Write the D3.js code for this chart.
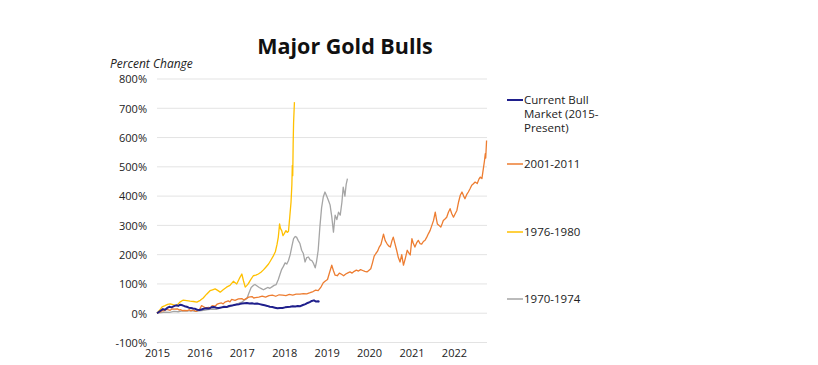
<!DOCTYPE html>
<html><head><meta charset="utf-8">
<script src="https://cdn.jsdelivr.net/npm/d3@7"></script>
<style>body{margin:0;background:#fff}svg{display:block}</style>
</head><body>
<svg id="chart" width="818" height="365"></svg>
<script>
const title = "Major Gold Bulls";
const yAxisTitle = "Percent Change";
const xTickYears = [2015, 2016, 2017, 2018, 2019, 2020, 2021, 2022];
const yTickValues = [-100, 0, 100, 200, 300, 400, 500, 600, 700, 800];
const seriesNames = ["Current Bull Market (2015-Present)", "2001-2011", "1976-1980", "1970-1974"];
const seriesColors = ["#1f1f8c", "#ed7d31", "#ffc000", "#a5a5a5"];

// [year position, percent change]
const current = [[2015.00,0],[2015.05,5],[2015.10,10],[2015.14,14],[2015.19,12],[2015.24,18],[2015.29,22],[2015.34,20],[2015.40,24],[2015.45,27],[2015.50,25],[2015.55,29],[2015.60,27],[2015.65,24],[2015.70,22],[2015.75,19],[2015.80,18],[2015.85,16],[2015.90,15],[2015.95,12],[2016.00,11],[2016.05,13],[2016.10,15],[2016.16,17],[2016.22,16],[2016.28,20],[2016.34,21],[2016.40,19],[2016.46,18],[2016.52,20],[2016.58,22],[2016.64,21],[2016.70,25],[2016.76,26],[2016.82,28],[2016.88,30],[2016.94,31],[2017.00,33],[2017.06,34],[2017.12,35],[2017.18,33],[2017.24,34],[2017.30,32],[2017.36,33],[2017.42,31],[2017.48,29],[2017.54,27],[2017.60,25],[2017.66,22],[2017.72,21],[2017.78,19],[2017.84,17],[2017.90,18],[2017.96,18],[2018.02,20],[2018.08,21],[2018.14,22],[2018.20,24],[2018.26,23],[2018.32,25],[2018.38,24],[2018.44,28],[2018.50,31],[2018.55,35],[2018.60,38],[2018.65,42],[2018.70,44],[2018.75,40],[2018.80,41],[2018.83,39]];

const bull2001 = [[2015.00,0],[2015.04,3],[2015.08,4],[2015.12,9],[2015.16,8],[2015.21,13],[2015.25,12],[2015.31,10],[2015.36,15],[2015.40,14],[2015.48,15],[2015.52,11],[2015.56,12],[2015.60,9],[2015.64,10],[2015.72,9],[2015.76,12],[2015.80,8],[2015.86,11],[2015.92,6],[2016.00,12],[2016.05,26],[2016.10,22],[2016.15,18],[2016.22,20],[2016.26,17],[2016.30,26],[2016.37,24],[2016.41,30],[2016.45,33],[2016.52,35],[2016.56,32],[2016.60,38],[2016.68,42],[2016.72,39],[2016.76,47],[2016.84,44],[2016.92,49],[2017.00,50],[2017.04,46],[2017.08,48],[2017.16,55],[2017.24,57],[2017.28,52],[2017.32,53],[2017.40,55],[2017.48,58],[2017.56,55],[2017.64,60],[2017.72,62],[2017.80,58],[2017.88,63],[2017.96,62],[2018.04,60],[2018.12,64],[2018.20,62],[2018.28,65],[2018.37,65],[2018.45,67],[2018.53,66],[2018.61,70],[2018.68,74],[2018.74,79],[2018.80,77],[2018.86,88],[2018.92,104],[2018.97,110],[2019.02,115],[2019.07,140],[2019.12,164],[2019.16,145],[2019.20,130],[2019.25,128],[2019.30,137],[2019.35,133],[2019.40,128],[2019.45,134],[2019.50,138],[2019.55,141],[2019.60,137],[2019.65,143],[2019.70,147],[2019.75,144],[2019.80,149],[2019.85,146],[2019.90,143],[2019.95,141],[2020.00,147],[2020.04,152],[2020.08,172],[2020.12,195],[2020.16,204],[2020.20,212],[2020.24,226],[2020.28,235],[2020.32,258],[2020.34,270],[2020.38,248],[2020.42,238],[2020.46,230],[2020.50,226],[2020.54,248],[2020.57,260],[2020.61,238],[2020.65,215],[2020.69,190],[2020.73,175],[2020.77,200],[2020.81,164],[2020.85,185],[2020.90,215],[2020.94,205],[2020.97,199],[2021.01,255],[2021.04,240],[2021.08,226],[2021.12,240],[2021.16,249],[2021.20,238],[2021.24,236],[2021.28,245],[2021.32,249],[2021.36,260],[2021.40,272],[2021.44,283],[2021.48,300],[2021.52,317],[2021.56,345],[2021.59,320],[2021.61,305],[2021.65,300],[2021.69,294],[2021.72,305],[2021.75,317],[2021.79,322],[2021.83,328],[2021.87,345],[2021.91,357],[2021.95,340],[2021.99,328],[2022.03,340],[2022.07,351],[2022.11,380],[2022.15,403],[2022.19,414],[2022.23,400],[2022.26,391],[2022.30,405],[2022.34,414],[2022.38,425],[2022.42,437],[2022.46,442],[2022.50,448],[2022.55,443],[2022.59,458],[2022.62,465],[2022.66,460],[2022.70,500],[2022.72,520],[2022.74,545],[2022.75,530],[2022.77,590]];

const bull1976 = [[2015.00,0],[2015.06,10],[2015.12,22],[2015.19,26],[2015.25,30],[2015.31,32],[2015.38,29],[2015.46,26],[2015.54,38],[2015.62,45],[2015.70,43],[2015.78,41],[2015.86,40],[2015.94,38],[2016.02,44],[2016.09,52],[2016.17,65],[2016.25,77],[2016.31,80],[2016.37,83],[2016.43,78],[2016.49,72],[2016.56,80],[2016.64,89],[2016.72,95],[2016.80,109],[2016.88,100],[2016.94,118],[2017.00,134],[2017.04,110],[2017.08,89],[2017.12,95],[2017.15,100],[2017.21,115],[2017.27,128],[2017.33,130],[2017.39,134],[2017.45,140],[2017.51,148],[2017.57,158],[2017.63,168],[2017.68,180],[2017.74,195],[2017.79,210],[2017.83,235],[2017.86,260],[2017.89,305],[2017.91,290],[2017.94,282],[2017.97,265],[2018.00,272],[2018.04,282],[2018.07,276],[2018.10,280],[2018.13,329],[2018.16,380],[2018.18,440],[2018.19,505],[2018.20,470],[2018.21,577],[2018.22,650],[2018.24,721]];

const bull1970 = [[2015.00,0],[2015.10,2],[2015.20,4],[2015.30,3],[2015.40,6],[2015.50,5],[2015.60,8],[2015.70,7],[2015.80,9],[2015.90,6],[2016.00,8],[2016.10,10],[2016.20,12],[2016.30,14],[2016.40,13],[2016.50,18],[2016.60,20],[2016.70,22],[2016.78,26],[2016.86,30],[2016.94,35],[2017.00,38],[2017.06,44],[2017.12,50],[2017.17,70],[2017.22,88],[2017.27,95],[2017.31,98],[2017.36,93],[2017.41,88],[2017.46,84],[2017.51,80],[2017.56,84],[2017.61,88],[2017.66,85],[2017.71,90],[2017.76,95],[2017.81,98],[2017.86,115],[2017.90,133],[2017.94,150],[2017.98,160],[2018.02,172],[2018.06,168],[2018.10,180],[2018.14,200],[2018.18,228],[2018.22,255],[2018.26,262],[2018.29,260],[2018.33,248],[2018.37,238],[2018.41,215],[2018.45,204],[2018.49,175],[2018.53,190],[2018.57,192],[2018.61,182],[2018.65,180],[2018.69,170],[2018.73,155],[2018.76,175],[2018.80,215],[2018.84,295],[2018.88,360],[2018.92,397],[2018.96,414],[2019.00,400],[2019.04,386],[2019.08,370],[2019.12,330],[2019.16,277],[2019.20,335],[2019.24,320],[2019.28,345],[2019.32,335],[2019.36,380],[2019.39,431],[2019.43,400],[2019.46,440],[2019.49,460]];

const seriesData = [current, bull2001, bull1976, bull1970];

const svg = d3.select("#chart");
const font = "'Open Sans', Lato, sans-serif";
const x = d3.scaleLinear().domain([2015, 2022.78]).range([157, 487]);
const y = d3.scaleLinear().domain([-100, 800]).range([342.5, 79]);

// gridlines
svg.append("g").selectAll("line").data(yTickValues).join("line")
  .attr("x1", x.range()[0]).attr("x2", x.range()[1])
  .attr("y1", d => y(d)).attr("y2", d => y(d))
  .attr("stroke", "#e3e3e3").attr("stroke-width", 1);

// y axis
const yAxis = d3.axisLeft(y).tickValues(yTickValues).tickFormat(d => d + "%").tickSize(0).tickPadding(0);
const gy = svg.append("g").attr("transform", "translate(147,0)").call(yAxis);
gy.select(".domain").remove();
gy.selectAll("text").attr("font-family", font).attr("font-size", 11).attr("fill", "#222").attr("dy", "0.35em");

// x axis
const xAxis = d3.axisBottom(x).tickValues(xTickYears).tickFormat(d3.format("d")).tickSize(0).tickPadding(0);
const gx = svg.append("g").attr("transform", "translate(0,349)").call(xAxis);
gx.select(".domain").remove();
gx.selectAll("text").attr("font-family", font).attr("font-size", 11).attr("fill", "#222");

// lines
const line = d3.line().x(d => x(d[0])).y(d => y(d[1]));
const drawOrder = [3, 2, 1, 0];
drawOrder.forEach(i => {
  svg.append("path").datum(seriesData[i])
    .attr("d", line).attr("fill", "none")
    .attr("stroke", seriesColors[i])
    .attr("stroke-width", i === 0 ? 2 : 1.3)
    .attr("stroke-linejoin", "round");
});

// title
svg.append("text").attr("x", 345).attr("y", 54).attr("text-anchor", "middle")
  .attr("font-family", font).attr("font-weight", "bold").attr("font-size", 21.5).attr("fill", "#111").text(title);
svg.append("text").attr("x", 110).attr("y", 68)
  .attr("font-family", font).attr("font-style", "italic").attr("font-size", 12).attr("fill", "#222").text(yAxisTitle);

// legend
const legendLines = [["Current Bull", "Market (2015-", "Present)"], ["2001-2011"], ["1976-1980"], ["1970-1974"]];
const legendY = [100, 164, 232, 299];
legendLines.forEach((lines, i) => {
  const g = svg.append("g");
  g.append("line").attr("x1", 507).attr("x2", 523).attr("y1", legendY[i]).attr("y2", legendY[i])
    .attr("stroke", seriesColors[i]).attr("stroke-width", i === 0 ? 2 : 1.5);
  const t = g.append("text").attr("x", 524).attr("y", legendY[i])
    .attr("font-family", font).attr("font-size", 11.5).attr("fill", "#222");
  lines.forEach((s, k) => t.append("tspan").attr("x", 524).attr("dy", k === 0 ? "0.35em" : "1.2em").text(s));
});
</script>
</body></html>
